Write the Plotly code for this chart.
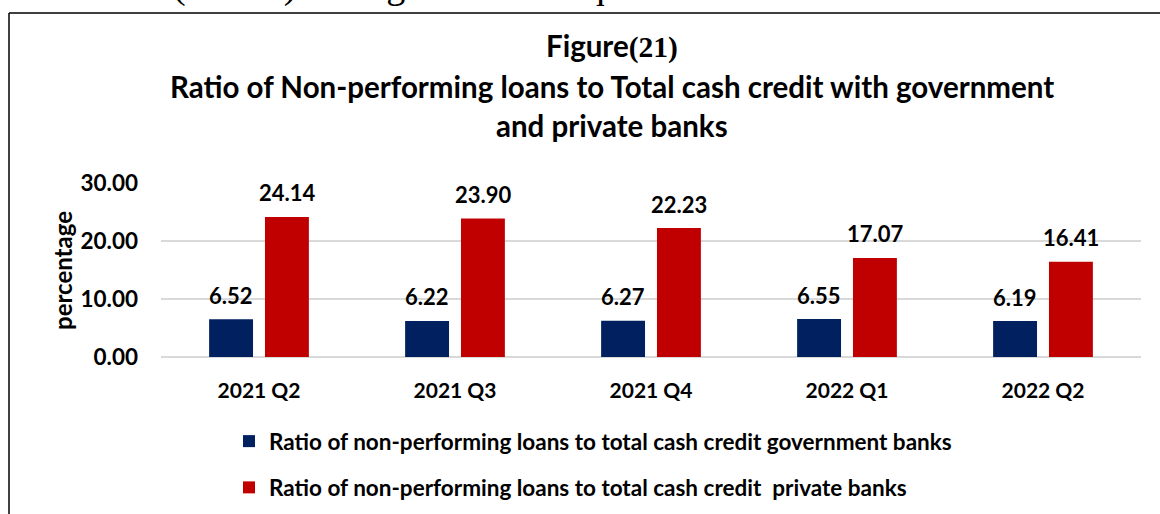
import plotly.graph_objects as go

# Quarterly NPL ratios (%)
quarters = ["2021 Q2", "2021 Q3", "2021 Q4", "2022 Q1", "2022 Q2"]
gov_banks = [6.52, 6.22, 6.27, 6.55, 6.19]
private_banks = [24.14, 23.90, 22.23, 17.07, 16.41]
series_names = [
    "Ratio of non-performing loans to total cash credit government banks",
    "Ratio of non-performing loans to total cash credit  private banks",
]
y_ticks = [0, 10, 20, 30]

title_lines = [
    "Figure<span style=\"font-family:Liberation Serif\">(21)</span>",
    "Ratio of Non-performing loans to Total cash credit with government",
    "and private banks",
]
lead_text = "constitutes (84.1%) during the second quarter of 2022."

BLUE = "#002060"
RED = "#C00000"
GRID = "#D9D9D9"
FONT = "Lato"

W, H = 1160, 514
L, R, T, B = 161, 1141, 183, 357


def px(x):
    return (x - L) / (R - L)


def py(y):
    return (B - y) / (B - T)


fig = go.Figure()
for name, vals, color, grp in [
    (series_names[0], gov_banks, BLUE, "g"),
    (series_names[1], private_banks, RED, "p"),
]:
    fig.add_trace(go.Bar(
        x=quarters, y=vals, name=name, legendgroup=grp,
        marker=dict(color=color, line=dict(width=0)),
    ))

annotations = []
# value labels above each bar
for vals, shift in [(gov_banks, -28), (private_banks, 28)]:
    for q, v in zip(quarters, vals):
        annotations.append(dict(
            x=q, y=v, xref="x", yref="y", text=f"{v:.2f}", showarrow=False,
            xshift=shift, yshift=24, yanchor="middle",
            font=dict(size=22, color="black", family=FONT, weight="bold"),
        ))

# title lines
for line, yc in zip(title_lines, [46, 86, 126]):
    annotations.append(dict(
        x=px(612), y=py(yc), xref="paper", yref="paper", text=line,
        showarrow=False, xanchor="center", yanchor="middle",
        font=dict(size=29.5, color="black", family=FONT, weight="bold"),
    ))

# y axis title
annotations.append(dict(
    x=px(62), y=py(271), xref="paper", yref="paper", text="percentage",
    showarrow=False, textangle=-90, xanchor="center", yanchor="middle",
    font=dict(size=24, color="black", family=FONT, weight="bold"),
))

# running text above the figure box
annotations.append(dict(
    x=px(-1), y=py(-14.5), xref="paper", yref="paper", text=lead_text,
    showarrow=False, xanchor="left", yanchor="middle",
    font=dict(size=38, color="black", family="Liberation Serif",
              weight="normal"),
))

shapes = [
    dict(type="line", xref="paper", yref="paper",
         x0=px(9), x1=px(9), y0=py(13), y1=py(530),
         line=dict(color="black", width=1.5)),
    dict(type="line", xref="paper", yref="paper",
         x0=px(9), x1=px(1170), y0=py(13), y1=py(13),
         line=dict(color="black", width=1.5)),
]

fig.update_layout(
    width=W, height=H,
    margin=dict(l=L, r=W - R, t=T, b=H - B, pad=0, autoexpand=False),
    paper_bgcolor="white", plot_bgcolor="white",
    font=dict(family=FONT, color="black", weight="bold"),
    barmode="group", bargap=0.43, bargroupgap=0.214,
    showlegend=True,
    legend=dict(
        x=px(229), y=py(420), xanchor="left", yanchor="top",
        orientation="v", traceorder="grouped", tracegroupgap=14,
        font=dict(size=22.5, family=FONT, color="black", weight="bold"),
        bgcolor="rgba(0,0,0,0)", borderwidth=0,
    ),
    xaxis=dict(
        showgrid=False, showline=False, zeroline=False, ticks="",
        tickfont=dict(size=21, family=FONT, color="black", weight="bold"),
        ticklabelstandoff=19,
    ),
    yaxis=dict(
        range=[0, 30], tickvals=y_ticks, tickformat=".2f",
        showgrid=True, gridcolor=GRID, gridwidth=1.5,
        zeroline=True, zerolinecolor=GRID, zerolinewidth=1.5,
        showline=False, ticks="",
        tickfont=dict(size=22.5, family=FONT, color="black", weight="bold"),
        ticklabelstandoff=22,
    ),
    annotations=annotations,
    shapes=shapes,
)

fig.write_html("out.html")
